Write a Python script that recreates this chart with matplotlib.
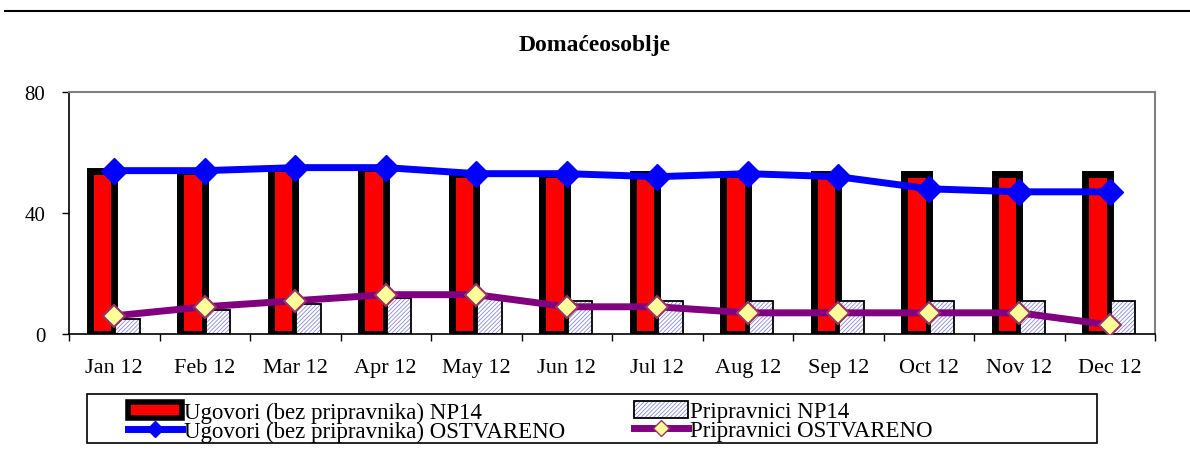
import matplotlib
matplotlib.use('Agg')
import matplotlib.pyplot as plt
import numpy as np
from matplotlib.patches import Patch, Rectangle
from matplotlib.lines import Line2D

months = ['Jan 12', 'Feb 12', 'Mar 12', 'Apr 12', 'May 12', 'Jun 12',
          'Jul 12', 'Aug 12', 'Sep 12', 'Oct 12', 'Nov 12', 'Dec 12']
ugovori_plan = [54, 54, 55, 55, 53, 53, 53, 53, 53, 53, 53, 53]
pripravnici_plan = [5, 8, 10, 12, 12, 11, 11, 11, 11, 11, 11, 11]
ugovori_ostvareno = [54, 54, 55, 55, 53, 53, 52, 53, 52, 48, 47, 47]
pripravnici_ostvareno = [6, 9, 11, 13, 13, 9, 9, 7, 7, 7, 7, 3]

plt.rcParams['font.family'] = ['Liberation Serif', 'DejaVu Serif']
plt.rcParams['hatch.linewidth'] = 0.6

fig = plt.figure(figsize=(11.9, 4.52), dpi=100)
ax = fig.add_axes([69/1190, 1-335/452, (1155-69)/1190, (335-93)/452])

x = np.arange(len(months))
w = 0.27

# plan bars
ax.bar(x - w/2, ugovori_plan, w, color='#ff0000', edgecolor='black', linewidth=5, zorder=2)
ax.bar(x + w/2 + 0.01, pripravnici_plan, w, color='white', edgecolor='#8a8ad8',
       hatch='////////', linewidth=0, zorder=2)
ax.bar(x + w/2 + 0.01, pripravnici_plan, w, color='none', edgecolor='black',
       linewidth=1.3, zorder=2)

# realised lines
ax.plot(x, ugovori_ostvareno, color='#0000ff', lw=5, marker='D', ms=13,
        mfc='#0000ff', mec='#0000ff', zorder=4)
ax.plot(x, pripravnici_ostvareno, color='#800080', lw=5, marker='D', ms=11,
        mfc='#ffff99', mec='#993366', mew=1.5, zorder=4)

ax.set_xlim(-0.5, 11.5)
ax.set_ylim(0, 80)
ax.set_yticks([0, 40, 80])
ax.set_xticks(x)
ax.set_xticklabels(months, fontsize=16)
ax.set_xticks(np.arange(-0.5, 12, 1), minor=True)
ax.tick_params(axis='x', which='major', length=0, pad=17)
ax.tick_params(axis='x', which='minor', length=5, width=1, direction='out')
ax.tick_params(axis='y', length=5, width=1, direction='out', labelsize=15, pad=12)

for s in ['top', 'right']:
    ax.spines[s].set_color('#808080')
    ax.spines[s].set_linewidth(1.5)
for s in ['left', 'bottom']:
    ax.spines[s].set_color('black')
    ax.spines[s].set_linewidth(1.2)

fig.text(0.5, 1-46/452, 'Domaćeosoblje', ha='center', va='center',
         fontsize=17, fontweight='bold')

# rule across the page top
fig.add_artist(Line2D([5/1190, 1.0], [1-12/452, 1-12/452], color='black', lw=1.5))

# legend frame and two columns
fig.add_artist(Rectangle((87/1190, 1-444/452), (1097-87)/1190, 49/452,
                         transform=fig.transFigure, fill=False, edgecolor='black', lw=1.2))

h_ug = Patch(facecolor='#ff0000', edgecolor='black', linewidth=4)
h_ug_o = Line2D([], [], color='#0000ff', lw=5, marker='D', ms=8, mfc='#0000ff')
h_pr = (Patch(facecolor='white', edgecolor='#8a8ad8', hatch='////////', linewidth=0),
        Patch(facecolor='none', edgecolor='black', linewidth=1.3))
h_pr_o = Line2D([], [], color='#800080', lw=5, marker='D', ms=8, mfc='#ffff99', mec='#993366')

leg_kw = dict(frameon=False, fontsize=16.5, handlelength=2.35, handletextpad=0.08,
              labelspacing=-0.1, borderpad=0, loc='upper left')
fig.legend([h_ug, h_ug_o], ['Ugovori (bez pripravnika) NP14', 'Ugovori (bez pripravnika) OSTVARENO'],
           bbox_to_anchor=(117/1190, 1-391/452), **leg_kw)
fig.legend([h_pr, h_pr_o], ['Pripravnici NP14', 'Pripravnici OSTVARENO'],
           bbox_to_anchor=(623/1190, 1-391/452), **leg_kw)

fig.savefig('out.png', dpi=100)
